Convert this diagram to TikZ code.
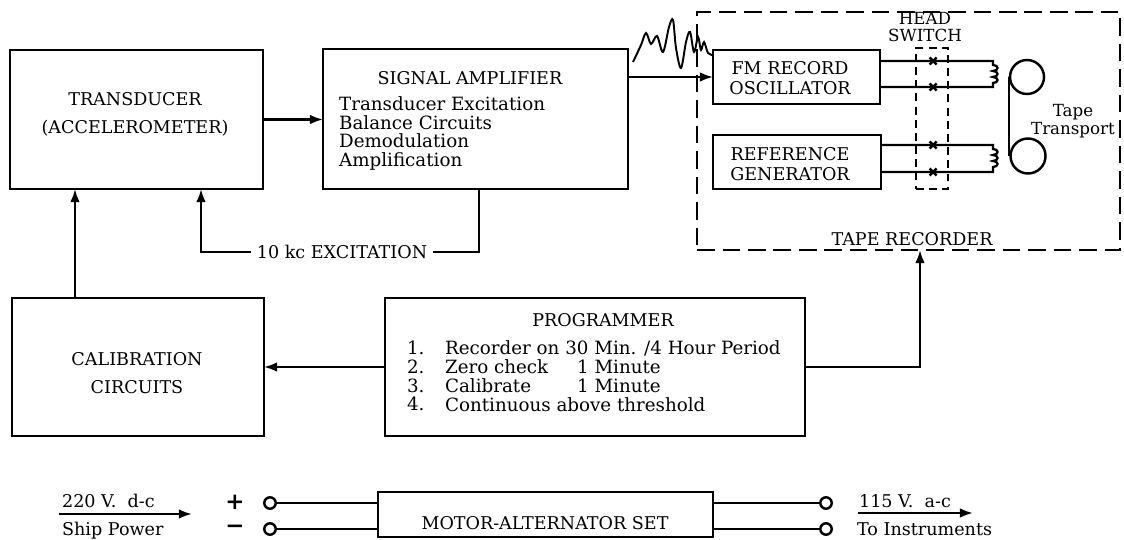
\documentclass[tikz,border=0pt]{standalone}
\usepackage{fontspec}
\setmainfont{DejaVu Serif}
\usetikzlibrary{arrows.meta}
\begin{document}
\begin{tikzpicture}[x=0.02cm,y=-0.02cm,
  every node/.style={font=\fontsize{10}{12}\selectfont, inner sep=1pt},
  box/.style={draw, line width=1.5pt, inner sep=0pt, outer sep=0pt},
  dbox/.style={draw, line width=1.6pt, dash pattern=on 10pt off 4.5pt, inner sep=0pt, outer sep=0pt},
  sbox/.style={draw, line width=1.3pt, dash pattern=on 4.5pt off 3pt, inner sep=0pt, outer sep=0pt},
  conn/.style={line width=1.3pt},
  arr/.style={conn, -{Latex[length=7.5pt,width=5.5pt]}},
  term/.style={circle, draw, line width=1.4pt, fill=white, minimum size=6.5pt, inner sep=0pt},
  xmark/.style={line width=1.4pt},
  two/.style={align=center, font=\fontsize{10}{16}\selectfont},
  tight/.style={align=center, font=\fontsize{10}{11.3}\selectfont},
  list/.style={anchor=west, align=left, font=\fontsize{10.4}{10.7}\selectfont},
]
\useasboundingbox (0,0) rectangle (1124,540);

% boxes
\node[box, minimum width=5.06cm, minimum height=2.78cm] (tr) at (136.5,119.5) {};
\node[box, minimum width=6.1cm, minimum height=2.8cm] (sa) at (475.5,119) {};
\node[box, minimum width=5.04cm, minimum height=2.76cm] (cal) at (138,367) {};
\node[box, minimum width=8.4cm, minimum height=2.76cm] (prog) at (595,367) {};
\node[dbox, minimum width=8.46cm, minimum height=4.76cm] (tape) at (908.5,131) {};
\node[box, minimum width=3.34cm, minimum height=1.08cm] (fm) at (796.5,77) {};
\node[box, minimum width=3.36cm, minimum height=1.08cm] (ref) at (797,162) {};
\node[sbox, minimum width=0.64cm, minimum height=2.82cm] (hs) at (932,118.5) {};
\node[box, minimum width=6.7cm, minimum height=0.9cm] (mas) at (545.5,514.5) {};

% texts
\node[two] (trt) at (135,114) {TRANSDUCER\\(ACCELEROMETER)};
\node (sat) at (470,78) {SIGNAL AMPLIFIER};
\node[list] (sal) at (337,133.5)
  {Transducer Excitation\\Balance Circuits\\Demodulation\\Amplification};
\node[inner sep=3pt] (exl) at (342,252) {10 kc EXCITATION};
\node[two] (calt) at (137,373) {CALIBRATION\\CIRCUITS};
\node (progt) at (603,320) {PROGRAMMER};
\node[list] (pn) at (405,376) {1.\\2.\\3.\\4.};
\node[list] (pl) at (443,376)
  {Recorder on 30 Min. /4 Hour Period\\Zero check\\Calibrate\\Continuous above threshold};
\node[list] (pm) at (575,376.5) {1 Minute\\1 Minute};
\node (tapet) at (912,239) {TAPE RECORDER};
\node[tight] (fmt) at (790,78) {FM RECORD\\OSCILLATOR};
\node[tight] (reft) at (790,164) {REFERENCE\\GENERATOR};
\node[align=center, font=\fontsize{9.5}{10.2}\selectfont] (hst) at (925,27) {HEAD\\SWITCH};
\node[align=center, font=\fontsize{9.5}{10.2}\selectfont] (ttt) at (1073,121) {Tape\\Transport};
\node (mast) at (545,523) {MOTOR-ALTERNATOR SET};

% main connectors
\draw[arr] (tr.east) -- (sa.west |- tr.east);
\coordinate (exR) at (479,252);
\coordinate (exL) at (201,252);
\draw[conn] (sa.south -| exR) -- (exR) -- (exl.east);
\draw[arr] (exl.west) -- (exL) -- (tr.south -| exL);
\coordinate (cx) at (75,0);
\draw[arr] (cal.north -| cx) -- (tr.south -| cx);
\draw[arr] (prog.west) -- (cal.east);
\coordinate (tx) at (920,0);
\draw[arr] (prog.east) -- (prog.east -| tx) -- (tape.south -| tx);
\draw[arr] (sa.east |- fm.west) -- (fm.west);

% signal waveform
\draw[line width=1.1pt] plot[smooth, tension=0.55] coordinates {
  (633,62) (641,45) (646,33) (651,44) (657,36) (663,52) (669,27) (673,20)
  (676,48) (681,68) (686,42) (690,32) (694,52) (698,37) (701,50) (704,42) (708,53) (713,55)};

% head wires and coils
\coordinate (w1) at (993,61);
\coordinate (w2) at (993,87);
\coordinate (w3) at (993,145);
\coordinate (w4) at (993,172);
\draw[conn] (fm.east |- w1) -- (w1) -- ++(0,4)
  .. controls +(6,0) and +(6,0) .. ++(0,6)
  .. controls +(6,0) and +(6,0) .. ++(0,6)
  .. controls +(6,0) and +(6,0) .. ++(0,6) -- (w2) -- (fm.east |- w2);
\draw[conn] (ref.east |- w3) -- (w3) -- ++(0,4)
  .. controls +(6,0) and +(6,0) .. ++(0,6)
  .. controls +(6,0) and +(6,0) .. ++(0,6)
  .. controls +(6,0) and +(6,0) .. ++(0,6) -- (w4) -- (ref.east |- w4);
\foreach \yy in {61,87,145,172}
  \draw[xmark] (933,\yy) +(-3.5,-3.5) -- +(3.5,3.5) +(-3.5,3.5) -- +(3.5,-3.5);

% tape reels
\node[circle, draw, line width=1.4pt, minimum size=0.68cm, inner sep=0pt] (reel1) at (1027,77) {};
\node[circle, draw, line width=1.4pt, minimum size=0.70cm, inner sep=0pt] (reel2) at (1028,156) {};
\draw[conn] (reel1.west) -- (reel2.west |- reel1.west) -- (reel2.west);

% power section
\node[anchor=base west] (v220) at (60,507) {220 V.~~d-c};
\node[anchor=base west] (ship) at (60,535) {Ship Power};
\coordinate (a1s) at (59,514);
\coordinate (a1e) at (192,514);
\draw[arr] (a1s) -- (a1e);
\node[font=\bfseries\fontsize{13}{13}\selectfont] (plus) at (235,502) {+};
\node[font=\bfseries\fontsize{13}{13}\selectfont] (minus) at (235,529) {−};
\node[term] (tp1) at (270,503) {};
\node[term] (tm1) at (270,529) {};
\draw[conn] (tp1) -- (mas.west |- tp1);
\draw[conn] (tm1) -- (mas.west |- tm1);
\node[term] (tp2) at (826,503) {};
\node[term] (tm2) at (826,529) {};
\draw[conn] (mas.east |- tp2) -- (tp2);
\draw[conn] (mas.east |- tm2) -- (tm2);
\node[anchor=base west] (v115) at (857,507) {115 V.~~a-c};
\node[anchor=base west] (toi) at (855,535) {To Instruments};
\coordinate (a2s) at (858,513);
\coordinate (a2e) at (973,513);
\draw[arr] (a2s) -- (a2e);
\end{tikzpicture}
\end{document}
